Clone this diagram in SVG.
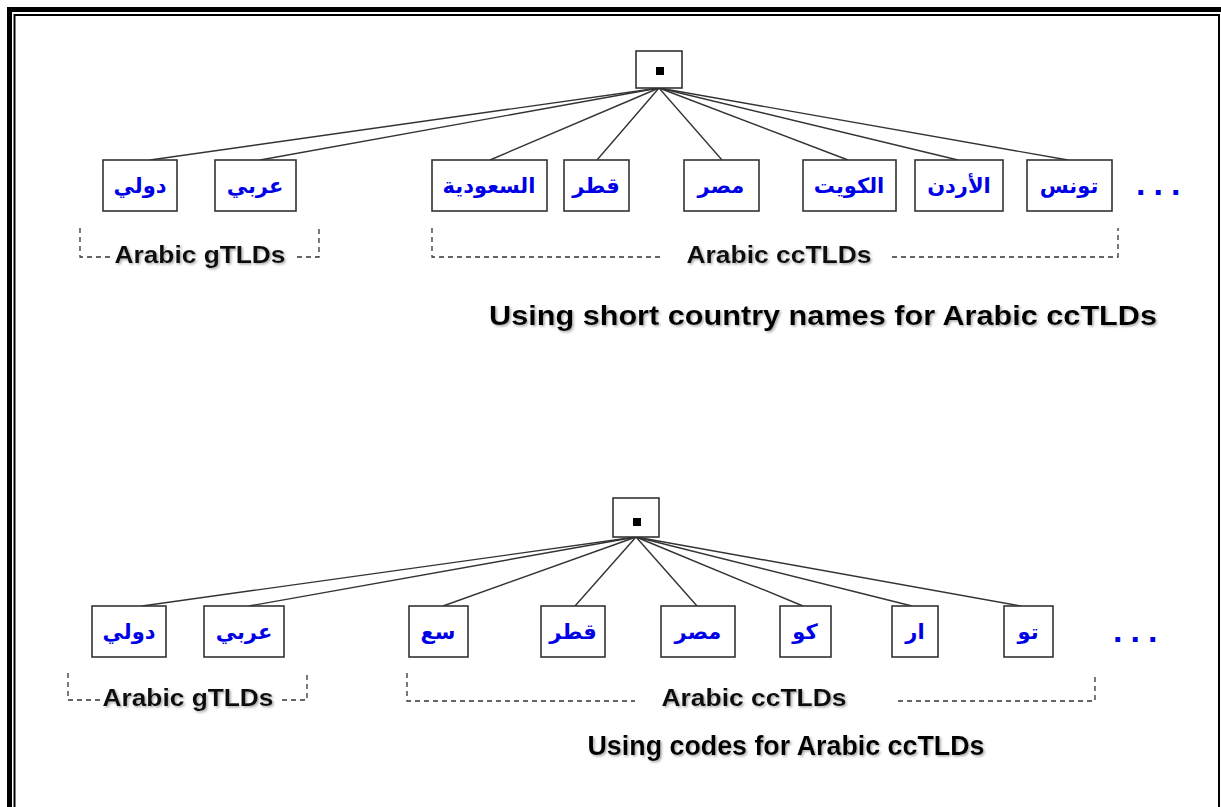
<svg xmlns="http://www.w3.org/2000/svg" width="1221" height="807" viewBox="0 0 1221 807">
<defs>
<filter id="sh" x="-5%" y="-20%" width="110%" height="150%">
<feDropShadow dx="1.5" dy="1.5" stdDeviation="0.8" flood-color="#888" flood-opacity="0.7"/>
</filter>
</defs>
<style>
.box{fill:#fff;stroke:#333;stroke-width:1.6}
.ar{font-family:"DejaVu Sans","Noto Sans",sans-serif;font-weight:bold;font-size:21px;fill:#0000e6;text-anchor:middle}
.lbl{font-family:"Liberation Sans",Arial,sans-serif;font-weight:bold;font-size:24px;fill:#111;filter:url(#sh)}
.ttl{font-family:"Liberation Sans",Arial,sans-serif;font-weight:bold;font-size:28px;fill:#000;filter:url(#sh)}
.dots{font-family:"Liberation Sans",Arial,sans-serif;font-weight:bold;font-size:34px;fill:#0000e6;letter-spacing:8px}
.con line{stroke:#333;stroke-width:1.4}
.br{fill:none;stroke:#333;stroke-width:1.3;stroke-dasharray:5,4}
</style>
<rect x="0" y="0" width="1221" height="807" fill="#fff"/>
<rect x="9.5" y="9.5" width="1300" height="1000" fill="none" stroke="#000" stroke-width="5"/>
<rect x="14.5" y="15" width="1204.5" height="900" fill="none" stroke="#000" stroke-width="2"/>

<g id="connectors-top" class="con">
<line x1="659" y1="88" x2="150" y2="160"/>
<line x1="659" y1="88" x2="260" y2="160"/>
<line x1="659" y1="88" x2="490" y2="160"/>
<line x1="659" y1="88" x2="597" y2="160"/>
<line x1="659" y1="88" x2="722" y2="160"/>
<line x1="659" y1="88" x2="848" y2="160"/>
<line x1="659" y1="88" x2="958" y2="160"/>
<line x1="659" y1="88" x2="1068" y2="160"/>
</g>
<g id="connectors-bottom" class="con">
<line x1="636" y1="537" x2="142" y2="606"/>
<line x1="636" y1="537" x2="249" y2="606"/>
<line x1="636" y1="537" x2="443" y2="606"/>
<line x1="636" y1="537" x2="575" y2="606"/>
<line x1="636" y1="537" x2="697" y2="606"/>
<line x1="636" y1="537" x2="803" y2="606"/>
<line x1="636" y1="537" x2="912" y2="606"/>
<line x1="636" y1="537" x2="1021" y2="606"/>
</g>

<g id="root-top"><rect class="box" x="636" y="51" width="46" height="37"/><rect x="656" y="67" width="8" height="8" fill="#000"/></g>
<g id="t-dwali"><rect class="box" x="103" y="160" width="74" height="51"/><text class="ar" x="140" y="193">دولي</text></g>
<g id="t-arabi"><rect class="box" x="215" y="160" width="81" height="51"/><text class="ar" x="255" y="193">عربي</text></g>
<g id="t-saudi"><rect class="box" x="432" y="160" width="115" height="51"/><text class="ar" x="489" y="193">السعودية</text></g>
<g id="t-qatar"><rect class="box" x="564" y="160" width="65" height="51"/><text class="ar" x="596" y="193">قطر</text></g>
<g id="t-misr"><rect class="box" x="684" y="160" width="75" height="51"/><text class="ar" x="721" y="193">مصر</text></g>
<g id="t-kuwait"><rect class="box" x="803" y="160" width="93" height="51"/><text class="ar" x="849" y="193">الكويت</text></g>
<g id="t-jordan"><rect class="box" x="915" y="160" width="88" height="51"/><text class="ar" x="959" y="193">الأردن</text></g>
<g id="t-tunis"><rect class="box" x="1027" y="160" width="85" height="51"/><text class="ar" x="1069" y="193">تونس</text></g>
<g id="t-more"><text class="dots" x="1136" y="195">...</text></g>

<g id="t-gtld">
<path class="br" d="M80,228 V257 H112 M297,257 H319 V228"/>
<text class="lbl" x="200" y="263" text-anchor="middle" textLength="171" lengthAdjust="spacingAndGlyphs">Arabic gTLDs</text>
</g>
<g id="t-cctld">
<path class="br" d="M432,228 V257 H662 M892,257 H1118 V228"/>
<text class="lbl" x="779" y="263" text-anchor="middle" textLength="185" lengthAdjust="spacingAndGlyphs">Arabic ccTLDs</text>
</g>
<g id="t-title"><text class="ttl" x="823" y="325" text-anchor="middle" textLength="668" lengthAdjust="spacingAndGlyphs">Using short country names for Arabic ccTLDs</text></g>

<g id="root-bottom"><rect class="box" x="613" y="498" width="46" height="39"/><rect x="633" y="518" width="8" height="8" fill="#000"/></g>
<g id="b-dwali"><rect class="box" x="92" y="606" width="74" height="51"/><text class="ar" x="129" y="639">دولي</text></g>
<g id="b-arabi"><rect class="box" x="204" y="606" width="80" height="51"/><text class="ar" x="244" y="639">عربي</text></g>
<g id="b-sa"><rect class="box" x="409" y="606" width="59" height="51"/><text class="ar" x="438" y="639">سع</text></g>
<g id="b-qatar"><rect class="box" x="541" y="606" width="64" height="51"/><text class="ar" x="573" y="639">قطر</text></g>
<g id="b-misr"><rect class="box" x="661" y="606" width="74" height="51"/><text class="ar" x="698" y="639">مصر</text></g>
<g id="b-ku"><rect class="box" x="780" y="606" width="51" height="51"/><text class="ar" x="805" y="639">كو</text></g>
<g id="b-ar"><rect class="box" x="892" y="606" width="46" height="51"/><text class="ar" x="915" y="639">ار</text></g>
<g id="b-tu"><rect class="box" x="1004" y="606" width="49" height="51"/><text class="ar" x="1028" y="639">تو</text></g>
<g id="b-more"><text class="dots" x="1113" y="642">...</text></g>

<g id="b-gtld">
<path class="br" d="M68,673 V700 H100 M282,700 H307 V673"/>
<text class="lbl" x="188" y="706" text-anchor="middle" textLength="171" lengthAdjust="spacingAndGlyphs">Arabic gTLDs</text>
</g>
<g id="b-cctld">
<path class="br" d="M407,673 V701 H635 M898,701 H1095 V673"/>
<text class="lbl" x="754" y="706" text-anchor="middle" textLength="185" lengthAdjust="spacingAndGlyphs">Arabic ccTLDs</text>
</g>
<g id="b-title"><text class="ttl" x="786" y="755" text-anchor="middle" textLength="397" lengthAdjust="spacingAndGlyphs">Using codes for Arabic ccTLDs</text></g>
</svg>
